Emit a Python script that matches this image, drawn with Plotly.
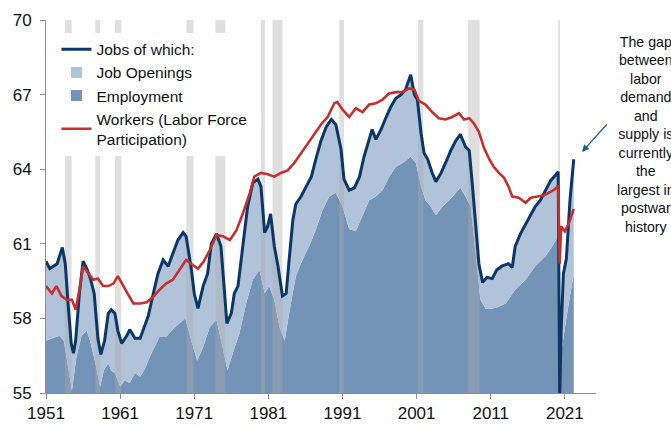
import plotly.graph_objects as go

# ---------------- data ----------------
jobs_x = [1951.0, 1951.5, 1952.0, 1952.5, 1953.2, 1953.6, 1954.0, 1954.4, 1954.7, 1955.0, 1955.5, 1956.0, 1956.5, 1957.0,
          1957.5, 1958.0, 1958.4, 1958.9, 1959.4, 1959.8, 1960.3, 1960.7, 1961.2, 1961.9, 1962.3, 1963.0, 1963.7, 1964.3,
          1964.8, 1965.4, 1966.1, 1966.8, 1967.5, 1968.1, 1968.8, 1969.5, 1969.9, 1970.6, 1971.0, 1971.5, 1972.2, 1972.8,
          1973.3, 1974.0, 1974.6, 1975.1, 1975.4, 1976.0, 1976.4, 1976.9, 1977.6, 1978.2, 1978.9, 1979.6, 1980.0, 1980.5,
          1980.9, 1981.3, 1981.8, 1982.3, 1982.9, 1983.4, 1983.8, 1984.3, 1984.7, 1985.4, 1986.1, 1986.8, 1987.4, 1988.1,
          1988.8, 1989.5, 1990.1, 1990.8, 1991.2, 1991.9, 1992.6, 1993.3, 1993.9, 1994.6, 1995.0, 1995.5, 1996.2, 1996.9,
          1997.5, 1998.2, 1998.9, 1999.5, 2000.2, 2000.7, 2001.1, 2001.6, 2002.0, 2002.5, 2003.1, 2003.6, 2004.3, 2004.9,
          2005.6, 2006.3, 2006.9, 2007.6, 2008.1, 2008.5, 2009.0, 2009.4, 2009.9, 2010.5, 2011.2, 2011.8, 2012.5, 2013.4,
          2013.9, 2014.3, 2015.0, 2015.7, 2016.4, 2017.0, 2017.7, 2018.4, 2019.1, 2019.7, 2020.1, 2020.3, 2020.5, 2020.8,
          2021.2, 2021.7, 2022.2]
jobs_y = [60.3, 60.0, 60.1, 60.2, 60.85, 60.2, 58.5, 57.0, 56.6, 57.1, 59.0, 60.3, 60.0, 59.6,
          59.0, 57.2, 56.55, 57.1, 58.2, 58.35, 58.2, 57.5, 57.0, 57.3, 57.55, 57.2, 57.2, 57.65,
          58.1, 58.9, 59.8, 60.35, 60.1, 60.6, 61.15, 61.45, 61.3, 60.0, 59.0, 58.4, 59.3, 59.8,
          61.0, 61.4, 60.9, 59.0, 57.8, 58.2, 59.0, 59.3, 60.9, 62.5, 63.45, 63.6, 63.3, 61.45,
          61.7, 62.2, 60.9, 60.1, 58.9, 59.0, 60.35, 61.95, 62.6, 62.9, 63.3, 63.7, 64.4, 65.15,
          65.7, 66.0, 65.8, 64.8, 63.6, 63.15, 63.25, 63.7, 64.5, 65.15, 65.6, 65.2, 65.6, 66.1,
          66.5, 66.85, 67.0, 67.2, 67.8, 67.0, 66.8, 65.45, 64.65, 64.4, 63.85, 63.5, 63.85, 64.25,
          64.75, 65.15, 65.4, 64.9, 64.75, 63.45, 61.8, 60.2, 59.45, 59.65, 59.6, 59.95, 60.1, 60.2,
          60.05, 60.9, 61.4, 61.8, 62.2, 62.5, 62.75, 63.15, 63.55, 63.75, 63.9, 54.8, 57.5, 59.8,
          60.4, 62.8, 64.4]

empl_x = [1951.0, 1951.9, 1952.8, 1953.4, 1954.0, 1954.5, 1955.1, 1955.8, 1956.5, 1956.9, 1957.6, 1958.3, 1958.8, 1959.4,
          1959.8, 1960.3, 1961.0, 1961.6, 1962.3, 1963.0, 1963.7, 1964.3, 1965.0, 1965.7, 1966.3, 1967.2, 1968.1, 1969.0,
          1969.8, 1970.6, 1971.4, 1972.2, 1973.1, 1974.0, 1974.9, 1975.5, 1976.2, 1977.1, 1978.0, 1978.9, 1979.8, 1980.5,
          1981.1, 1981.8, 1982.5, 1983.2, 1983.8, 1984.7, 1985.6, 1986.5, 1987.4, 1988.3, 1989.2, 1990.1, 1991.0, 1991.9,
          1992.8, 1993.7, 1994.6, 1995.5, 1996.4, 1997.3, 1998.2, 1999.1, 2000.2, 2000.9, 2001.6, 2002.2, 2002.9, 2003.6,
          2004.5, 2005.4, 2006.3, 2006.9, 2007.6, 2008.3, 2009.0, 2009.6, 2010.3, 2011.2, 2011.9, 2013.0, 2014.3, 2015.7,
          2017.0, 2018.4, 2019.3, 2020.1, 2020.3, 2020.6, 2021.3, 2022.2]
empl_y = [57.1, 57.2, 57.3, 57.1, 56.0, 55.1, 56.45, 57.3, 57.5, 57.15, 56.3, 55.25, 55.9, 56.2,
          55.9, 55.8, 55.25, 55.5, 55.4, 55.8, 55.65, 55.95, 56.45, 56.85, 57.25, 57.25, 57.55, 57.8,
          58.0, 57.1, 56.3, 56.85, 57.65, 57.95, 56.75, 55.9, 56.6, 57.4, 58.6, 59.55, 59.95, 59.0,
          59.3, 58.75, 57.65, 57.1, 58.2, 59.7, 60.35, 60.9, 61.55, 62.35, 62.9, 63.05, 62.5, 61.6,
          61.5, 62.1, 62.75, 62.9, 63.15, 63.7, 64.1, 64.25, 64.5, 64.25, 63.3, 62.75, 62.5, 62.15,
          62.5, 62.75, 63.05, 63.25, 62.9, 62.5, 60.5, 58.75, 58.4, 58.4, 58.45, 58.6, 59.15, 59.55,
          60.1, 60.5, 60.9, 61.3, 54.8, 56.8, 58.2, 59.8]

work_x = [1951.0, 1951.8, 1952.4, 1953.1, 1953.8, 1954.5, 1955.0, 1955.6, 1956.0, 1956.7, 1957.4, 1958.0, 1958.7, 1959.4,
          1960.1, 1960.7, 1961.4, 1962.1, 1962.8, 1963.7, 1964.6, 1965.4, 1966.3, 1967.2, 1968.1, 1969.0, 1969.9, 1970.8,
          1971.5, 1972.3, 1973.1, 1974.0, 1974.9, 1975.8, 1976.7, 1977.6, 1978.5, 1979.1, 1980.0, 1980.9, 1981.8, 1982.7,
          1983.6, 1984.5, 1985.4, 1986.3, 1987.2, 1988.1, 1989.0, 1989.9, 1990.3, 1991.0, 1991.9, 1992.8, 1993.7, 1994.6,
          1995.5, 1996.4, 1997.3, 1998.2, 1999.1, 2000.0, 2000.7, 2001.3, 2002.2, 2003.1, 2004.0, 2004.9, 2005.8, 2006.7,
          2007.4, 2008.1, 2008.7, 2009.4, 2010.1, 2010.8, 2011.4, 2012.1, 2012.8, 2013.4, 2013.9, 2014.8, 2015.7, 2016.4,
          2017.3, 2018.2, 2019.1, 2019.7, 2020.1, 2020.3, 2020.5, 2021.0, 2021.5, 2022.2]
work_y = [59.3, 59.0, 59.3, 58.9, 58.75, 58.75, 58.35, 59.3, 60.1, 59.8, 59.55, 59.6, 59.3, 59.3,
          59.4, 59.7, 59.3, 58.95, 58.6, 58.6, 58.65, 58.85, 59.15, 59.4, 59.55, 59.95, 60.35, 60.15,
          60.0, 60.3, 60.75, 61.35, 61.3, 61.15, 61.55, 62.25, 63.05, 63.7, 63.85, 63.8, 63.7, 63.85,
          63.95, 64.25, 64.65, 65.05, 65.45, 65.8, 66.1, 66.65, 66.7, 66.4, 66.1, 66.45, 66.3, 66.6,
          66.65, 66.8, 67.05, 67.1, 67.1, 67.25, 67.2, 66.75, 66.6, 66.3, 66.05, 66.0, 66.1, 66.25,
          66.0, 66.05, 65.85, 65.5, 64.85, 64.4, 64.1, 63.85, 63.65, 63.3, 62.9, 62.85, 62.65, 62.85,
          62.9, 62.95, 63.1, 63.2, 63.35, 60.2, 61.7, 61.5, 61.8, 62.4]

recession_start = [1953.55, 1957.65, 1960.3, 1969.95, 1973.85, 1980.0, 1981.55, 1990.55, 2001.2, 2007.95, 2020.1]
recession_end = [1954.45, 1958.3, 1961.15, 1970.9, 1975.2, 1980.55, 1982.9, 1991.2, 2001.9, 2009.5, 2020.35]

x_tick_vals = [1951, 1961, 1971, 1981, 1991, 2001, 2011, 2021]
x_tick_text = ["1951", "1961", "1971", "1981", "1991", "2001", "2011", "2021"]
y_tick_vals = [55, 58, 61, 64, 67, 70]
y_tick_text = ["55", "58", "61", "64", "67", "70"]

note_text = ("The gap<br>between<br>labor<br>demand<br>and<br>supply is<br>currently<br>the<br>"
             "largest in<br>postwar<br>history")

# ---------------- styling ----------------
Y_MIN, Y_MAX = 55, 70
X_MIN, X_MAX = 1951, 2025.2
NAVY = "#0b3766"
RED = "#c4302e"
LIGHT = "#b1c3d9"
DARK = "#7393b7"
AXIS = "#8c8c8c"
FONT = "Liberation Sans, Arial, sans-serif"

fig = go.Figure()

# employment area (from axis bottom up to employment)
fig.add_trace(go.Scatter(x=empl_x, y=empl_y, mode="lines", line=dict(width=0, color=DARK),
                         fill="tozeroy", fillcolor=DARK, showlegend=False, hoverinfo="skip"))
# job openings area (between employment and jobs)
fig.add_trace(go.Scatter(x=jobs_x, y=jobs_y, mode="lines", line=dict(width=0, color=LIGHT),
                         fill="tonexty", fillcolor=LIGHT, showlegend=False, hoverinfo="skip"))

# recession bands (semi-transparent, over the areas, under the lines)
rx, ry = [], []
for s, e in zip(recession_start, recession_end):
    rx += [s, e, e, s, s, None]
    ry += [Y_MIN, Y_MIN, Y_MAX, Y_MAX, Y_MIN, None]
fig.add_trace(go.Scatter(x=rx, y=ry, mode="lines", line=dict(width=0), fill="toself",
                         fillcolor="rgba(172,172,172,0.38)", showlegend=False, hoverinfo="skip"))

# lines
fig.add_trace(go.Scatter(x=jobs_x, y=jobs_y, mode="lines", name="Jobs of which:",
                         line=dict(color=NAVY, width=3), legendrank=1))
fig.add_trace(go.Scatter(x=work_x, y=work_y, mode="lines", name="Workers (Labor Force<br>Participation)",
                         line=dict(color=RED, width=2.6), legendrank=4))

# legend-only swatches for the areas
fig.add_trace(go.Scatter(x=[None], y=[None], mode="markers", name="Job Openings",
                         marker=dict(symbol="square", size=11, color=LIGHT), legendrank=2))
fig.add_trace(go.Scatter(x=[None], y=[None], mode="markers", name="Employment",
                         marker=dict(symbol="square", size=11, color=DARK), legendrank=3))

fig.add_annotation(text=note_text, xref="paper", yref="paper", x=1.09, y=0.6917,
                   xanchor="center", yanchor="middle", showarrow=False, align="center",
                   font=dict(family=FONT, size=14.2, color="#111111"))
fig.add_annotation(text="", xref="paper", yref="paper", x=0.9745, y=0.646, ax=26, ay=-29,
                   showarrow=True, arrowhead=2, arrowsize=1.1, arrowwidth=1.3, arrowcolor="#1d5f8e",
                   standoff=0)

fig.update_layout(
    width=671, height=426,
    margin=dict(l=46, r=75, t=20, b=33, autoexpand=False),
    paper_bgcolor="white", plot_bgcolor="white",
    font=dict(family=FONT, size=17, color="#111111"),
    legend=dict(x=0.019, y=0.966, xanchor="left", yanchor="top", bgcolor="white",
                font=dict(family=FONT, size=15.5, color="#111111"), itemwidth=30,
                tracegroupgap=0, traceorder="normal"),
    xaxis=dict(range=[X_MIN, X_MAX], tickvals=x_tick_vals, ticktext=x_tick_text, automargin=False,
               showgrid=False, zeroline=False, showline=True, linecolor=AXIS, linewidth=1,
               ticks="outside", ticklen=5, tickcolor=AXIS, tickfont=dict(size=17)),
    yaxis=dict(range=[Y_MIN, Y_MAX], tickvals=y_tick_vals, ticktext=y_tick_text, automargin=False,
               showgrid=False, zeroline=False, showline=True, linecolor=AXIS, linewidth=1,
               ticks="outside", ticklen=5, tickcolor=AXIS, tickfont=dict(size=17),
               ticklabelstandoff=5),
)

fig.write_html("out.html", config={"displayModeBar": False},
               post_script="document.body.style.margin='0';")
